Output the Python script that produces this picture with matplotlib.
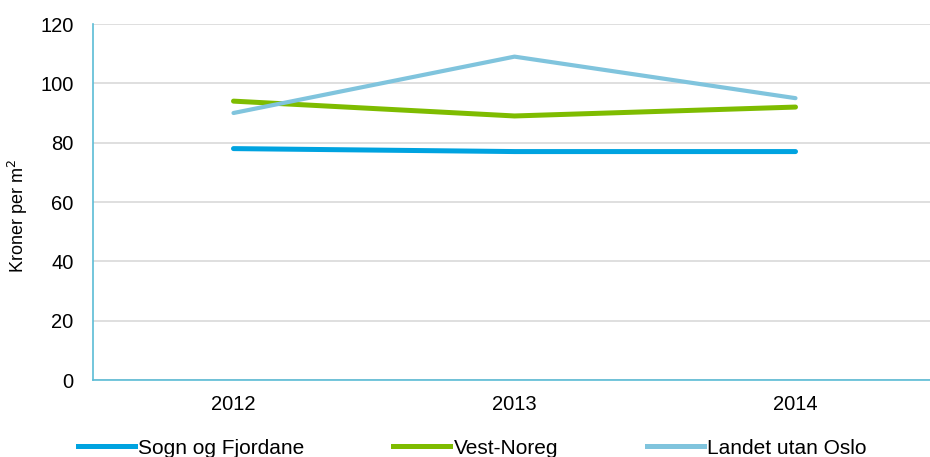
import matplotlib
matplotlib.use("Agg")
import matplotlib.pyplot as plt
from matplotlib.lines import Line2D

years = ["2012", "2013", "2014"]
sogn = [78, 77, 77]
vest = [94, 89, 92]
landet = [90, 109, 95]
series_names = ["Sogn og Fjordane", "Vest-Noreg", "Landet utan Oslo"]
colors = ["#00a3e0", "#7ebc00", "#80c4dd"]
yticks = [0, 20, 40, 60, 80, 100, 120]

plt.rcParams["font.family"] = ["Liberation Sans", "DejaVu Sans"]
FS = 14.5

fig = plt.figure(figsize=(9.30, 4.57), dpi=100)
ax = fig.add_axes([93 / 930, 1 - 380 / 457, (936 - 93) / 930, 356 / 457])

x = range(len(years))
ax.plot(x, sogn, color=colors[0], lw=3.6, solid_capstyle="round", zorder=3)
ax.plot(x, vest, color=colors[1], lw=3.6, solid_capstyle="round", zorder=3)
ax.plot(x, landet, color=colors[2], lw=3.0, solid_capstyle="round", zorder=4)

ax.set_xlim(-0.5, 2.5)
ax.set_ylim(0, 120)
ax.set_yticks(yticks)
ax.set_yticklabels([str(v) for v in yticks], fontsize=FS)
ax.set_xticks(list(x))
ax.set_xticklabels(years, fontsize=FS)
ax.tick_params(axis="both", length=0)
ax.tick_params(axis="y", pad=14)
ax.tick_params(axis="x", pad=11)
ax.grid(axis="y", color="#d9d9d9", lw=1.2)
ax.set_axisbelow(True)
for side in ["top", "right"]:
    ax.spines[side].set_visible(False)
for side in ["left", "bottom"]:
    ax.spines[side].set_color("#5bbcd6")
    ax.spines[side].set_linewidth(1.2)

fig.text(18 / 930, 1 - 216 / 457, "Kroner per m$^2$", rotation=90,
         fontsize=13, ha="center", va="center")

# one legend entry per column, each anchored at its own left edge
legend_x = [78, 393, 647]
for name, c, lx in zip(series_names, colors, legend_x):
    fig.legend([Line2D([0], [0], color=c, lw=3.6)], [name],
               loc="center left", frameon=False, fontsize=15,
               bbox_to_anchor=(lx / 930, 1 - 448 / 457),
               borderpad=0, borderaxespad=0,
               handlelength=2.75, handletextpad=0.15)

fig.savefig("out.png", dpi=100)
